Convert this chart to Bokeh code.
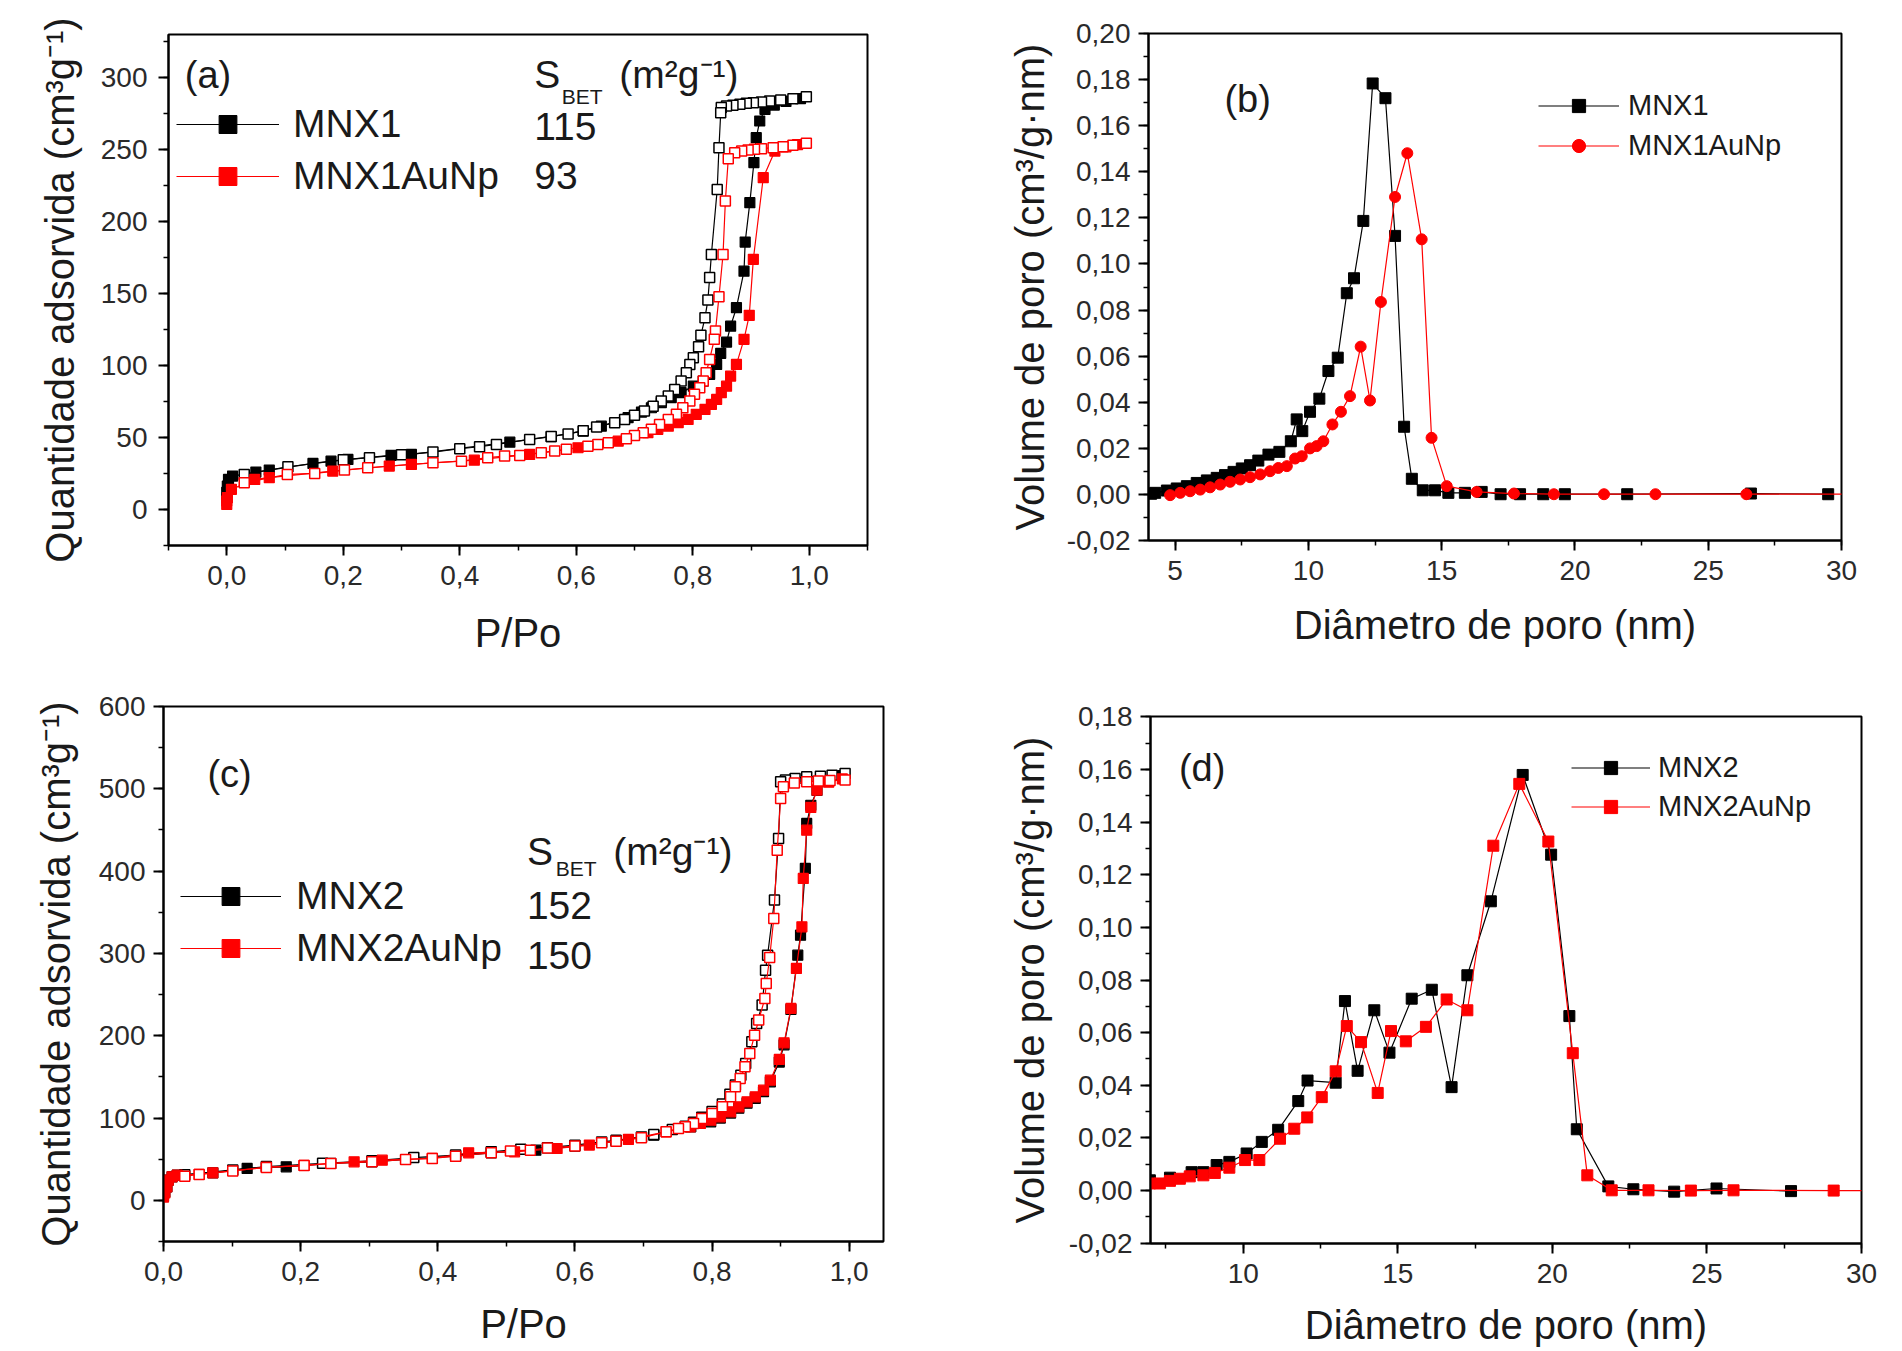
from bokeh.plotting import figure
from bokeh.models import Range1d, SingleIntervalTicker, CustomJSTickFormatter, Legend, LegendItem, Label
from bokeh.layouts import column, row
from bokeh.embed import file_html
from bokeh.resources import INLINE

FONT = "Liberation Sans"
BLACK = "#000000"
RED = "#ff0000"
TXT = "#1a1a1a"

# ---------------- panel (a): MNX1 isotherms ----------------
a_mnx1_ads_x = [0.0, 0.0, 0.001, 0.003, 0.010, 0.050, 0.073, 0.148, 0.179, 0.208, 0.282, 0.317, 0.486, 0.557,
                0.612, 0.643, 0.689, 0.712, 0.729, 0.746, 0.763, 0.780, 0.801, 0.818, 0.829, 0.841, 0.848, 0.858,
                0.865, 0.875, 0.888, 0.890, 0.898, 0.905, 0.909, 0.915, 0.924, 0.940, 0.960, 0.985]
a_mnx1_ads_y = [8, 12, 16.3, 20.9, 23.2, 26, 27.4, 32, 33.6, 34.8, 37.6, 38.3, 46.8, 50.6,
                54.5, 57.9, 63.8, 67.7, 70.7, 74.2, 77.7, 81.2, 85.7, 89.2, 93.9, 100.8, 108.5, 116.3,
                127.4, 140.2, 165.6, 185.8, 213.2, 241, 258.3, 269.9, 278, 281, 283.5, 285.5]
a_mnx1_des_x = [0.995, 0.972, 0.951, 0.932, 0.918, 0.904, 0.892, 0.881, 0.869, 0.858, 0.849, 0.848, 0.845, 0.842,
                0.832, 0.829, 0.826, 0.821, 0.814, 0.810, 0.801, 0.795, 0.789, 0.780, 0.769, 0.758, 0.746, 0.732,
                0.717, 0.700, 0.683, 0.666, 0.635, 0.612, 0.586, 0.557, 0.520, 0.463, 0.434, 0.400, 0.354, 0.300,
                0.245, 0.200, 0.105, 0.030]
a_mnx1_des_y = [286.8, 285.4, 284.5, 283.8, 283.1, 282.6, 282.2, 281.5, 280.8, 280.3, 279.2, 275.7, 251.4, 222.4,
                177.2, 161.1, 145.5, 133.3, 121, 113.1, 105.5, 100.8, 95, 89.2, 83.4, 78.8, 75.3, 71.8,
                68.4, 65.4, 62.6, 60.3, 57.3, 54.8, 52.5, 50.8, 48.7, 45.2, 43.6, 42.2, 39.9, 38,
                36, 34.5, 29.7, 24.4]
a_au_ads_x = [0.0, 0.0, 0.001, 0.008, 0.048, 0.073, 0.182, 0.279, 0.317, 0.425, 0.520, 0.603, 0.672, 0.723,
              0.740, 0.758, 0.775, 0.792, 0.806, 0.821, 0.832, 0.841, 0.849, 0.858, 0.865, 0.875, 0.888, 0.897,
              0.904, 0.921, 0.941, 0.960, 0.980]
a_au_ads_y = [3.5, 6, 8.2, 14, 20.9, 22.1, 26.7, 30.2, 31.3, 34.3, 38.3, 42.9, 47.5, 53.4,
              55.7, 57.9, 60.3, 62.6, 66.1, 69.5, 73, 76.5, 81.2, 85.7, 92.7, 100.8, 118.2, 134.9,
              173.8, 230.5, 249, 252, 253.5]
a_au_des_x = [0.995, 0.972, 0.955, 0.938, 0.918, 0.906, 0.895, 0.884, 0.872, 0.861, 0.856, 0.852, 0.845, 0.839,
              0.837, 0.829, 0.823, 0.818, 0.812, 0.803, 0.795, 0.783, 0.772, 0.758, 0.743, 0.729, 0.715, 0.700,
              0.686, 0.655, 0.637, 0.620, 0.583, 0.563, 0.540, 0.503, 0.477, 0.448, 0.403, 0.354, 0.242, 0.202,
              0.151, 0.104, 0.030]
a_au_des_y = [254.4, 253, 252.1, 251.4, 250.7, 250.2, 249.7, 249, 247.9, 243.7, 214.3, 177.2, 147.8, 124,
              118.2, 104.3, 95, 89.2, 84.6, 80, 75.3, 70.7, 66.1, 62.6, 59.1, 55.7, 53.4, 51.5,
              49.2, 46.4, 45.2, 44, 41.8, 40.6, 39.5, 37.6, 37.1, 36, 33.6, 32.5, 29, 27.4,
              25.1, 24.4, 18.6]

# ---------------- panel (b): MNX1 pore size distribution ----------------
b_mnx1_x = [4.1, 4.25, 4.69, 5.06, 5.44, 5.81, 6.19, 6.56, 6.87, 7.19, 7.5, 7.81, 8.12, 8.5, 8.91, 9.34, 9.56,
            9.77, 10.06, 10.41, 10.75, 11.10, 11.44, 11.71, 12.06, 12.41, 12.89, 13.25, 13.59, 13.88, 14.29,
            14.75, 15.25, 15.87, 16.5, 17.21, 17.94, 18.81, 19.62, 21.96, 26.6, 29.5]
b_mnx1_y = [0.0002, 0.0006, 0.0016, 0.0025, 0.0035, 0.0049, 0.0060, 0.0071, 0.0083, 0.0097, 0.0112, 0.0126,
            0.0146, 0.0172, 0.0184, 0.0230, 0.0325, 0.0274, 0.0358, 0.0415, 0.0535, 0.0593, 0.0873, 0.0938,
            0.1187, 0.1784, 0.1720, 0.1122, 0.0293, 0.0067, 0.0017, 0.0017, 0.0006, 0.0006, 0.0010, 0.0,
            0.0, 0.0, 0.0, 0.0, 0.0003, 0.0]
b_au_x = [4.81, 5.19, 5.56, 5.94, 6.31, 6.69, 7.06, 7.44, 7.81, 8.19, 8.56, 8.87, 9.19, 9.5, 9.75, 10.06,
          10.31, 10.56, 10.90, 11.22, 11.56, 11.96, 12.31, 12.72, 13.25, 13.71, 14.25, 14.62, 15.19, 16.31,
          17.71, 19.21, 21.09, 23.02, 26.43, 30.5]
b_au_y = [-0.0004, 0.0006, 0.0013, 0.0020, 0.0030, 0.0042, 0.0054, 0.0064, 0.0074, 0.0086, 0.0100, 0.0114,
          0.0122, 0.0155, 0.0165, 0.0199, 0.0209, 0.0230, 0.0303, 0.0358, 0.0426, 0.0641, 0.0407, 0.0835,
          0.1291, 0.1481, 0.1107, 0.0245, 0.0035, 0.0010, 0.0003, 0.0, 0.0, 0.0, 0.0, 0.0]

# ---------------- panel (c): MNX2 isotherms ----------------
c_mnx2_ads_x = [0.0, 0.002, 0.005, 0.007, 0.0125, 0.020, 0.072, 0.122, 0.179, 0.244, 0.304, 0.353, 0.426, 0.478,
                0.543, 0.600, 0.660, 0.715, 0.769, 0.798, 0.812, 0.827, 0.839, 0.851, 0.863, 0.875, 0.885, 0.898,
                0.905, 0.915, 0.925, 0.929, 0.936, 0.938, 0.944, 0.953, 0.970, 0.990]
c_mnx2_ads_y = [5, 10, 16.4, 24.5, 28.6, 30.6, 33.4, 38.8, 40.7, 44.8, 46.8, 49.6, 53.7, 57.7,
                61, 65.9, 71.9, 79.2, 89.3, 95.4, 100, 106, 112, 118, 124, 132, 144, 168,
                189, 232, 297.9, 322.2, 403.3, 458, 480, 498, 510, 516]
c_mnx2_des_x = [0.994, 0.975, 0.958, 0.938, 0.921, 0.907, 0.900, 0.897, 0.891, 0.881, 0.878, 0.873, 0.865, 0.858,
                0.849, 0.842, 0.834, 0.826, 0.815, 0.800, 0.785, 0.773, 0.761, 0.742, 0.715, 0.697, 0.660, 0.639,
                0.600, 0.560, 0.521, 0.478, 0.426, 0.365, 0.304, 0.232, 0.150, 0.101, 0.031]
c_mnx2_des_y = [518.7, 516.6, 515.4, 514.6, 512.6, 510.6, 508.5, 439.7, 364.8, 297.9, 279.7, 237.2, 214.9, 192.6,
                166.3, 152, 140, 129, 117, 108, 101, 95, 90, 86, 80, 77, 73, 71,
                67, 64, 62, 59, 55, 52, 48, 45, 41, 37, 31]
c_au_ads_x = [0.0, 0.002, 0.005, 0.007, 0.0125, 0.020, 0.052, 0.072, 0.150, 0.205, 0.278, 0.319, 0.392, 0.445,
              0.512, 0.574, 0.621, 0.678, 0.733, 0.768, 0.783, 0.798, 0.812, 0.827, 0.839, 0.851, 0.863, 0.875,
              0.885, 0.898, 0.905, 0.915, 0.923, 0.931, 0.933, 0.938, 0.944, 0.953, 0.970, 0.990]
c_au_ads_y = [4, 9, 16.4, 24.5, 28.6, 30.6, 31.5, 33.4, 40, 42.4, 46.8, 48.8, 50.9, 57.7,
              58.9, 63, 67.1, 74, 83.2, 89.3, 93.4, 97.4, 101.5, 107.5, 113.6, 119.7, 125.8, 133.9,
              146, 171.2, 191.4, 233.2, 281.8, 332.3, 391.1, 449.8, 477.4, 498.4, 508, 512]
c_au_des_x = [0.994, 0.972, 0.955, 0.938, 0.920, 0.904, 0.900, 0.895, 0.890, 0.884, 0.879, 0.877, 0.868, 0.862,
              0.855, 0.848, 0.841, 0.834, 0.827, 0.815, 0.800, 0.785, 0.773, 0.761, 0.751, 0.733, 0.697, 0.660,
              0.639, 0.600, 0.560, 0.535, 0.506, 0.478, 0.426, 0.392, 0.353, 0.304, 0.244, 0.205, 0.150, 0.101,
              0.052, 0.031]
c_au_des_y = [510.6, 510, 509.5, 508.5, 507, 502.4, 488.3, 425.5, 342.5, 295, 263.5, 245.3, 219, 200.7,
              178.5, 162.2, 148.1, 137.9, 125.8, 113.6, 105.6, 99.5, 93.4, 89.3, 87.4, 83.2, 75.9, 71.9,
              69.9, 65.9, 63.5, 61, 60, 57.7, 53.7, 50.9, 49.6, 46.8, 44.8, 42.4, 40, 35.8,
              31.5, 29.4]

# ---------------- panel (d): MNX2 pore size distribution ----------------
d_mnx2_x = [6.98, 7.63, 8.33, 8.71, 9.14, 9.55, 10.11, 10.60, 11.13, 11.78, 12.08, 12.99, 13.29, 13.70, 14.24,
            14.73, 15.45, 16.10, 16.74, 17.25, 18.01, 19.04, 19.96, 20.55, 20.79, 21.81, 22.62, 23.94, 25.31, 27.72]
d_mnx2_y = [0.0039, 0.0049, 0.0070, 0.0070, 0.0097, 0.0109, 0.0141, 0.0185, 0.0231, 0.0340, 0.0418, 0.0410,
            0.0720, 0.0455, 0.0685, 0.0524, 0.0729, 0.0763, 0.0393, 0.0818, 0.1099, 0.1579, 0.1276, 0.0663,
            0.0233, 0.0016, 0.0005, -0.0004, 0.0008, -0.0002]
d_au_x = [6.98, 7.30, 7.63, 7.95, 8.27, 8.71, 9.08, 9.55, 10.06, 10.52, 11.19, 11.65, 12.07, 12.54, 12.99,
          13.35, 13.81, 14.35, 14.78, 15.26, 15.91, 16.58, 17.25, 18.09, 18.93, 19.87, 20.66, 21.13, 21.92,
          23.11, 24.48, 25.86, 29.1, 30.5]
d_au_y = [0.0027, 0.0027, 0.0037, 0.0045, 0.0054, 0.0058, 0.0067, 0.0087, 0.0116, 0.0116, 0.0197, 0.0235,
          0.0278, 0.0355, 0.0453, 0.0625, 0.0564, 0.0371, 0.0606, 0.0567, 0.0622, 0.0726, 0.0685, 0.1310,
          0.1545, 0.1326, 0.0522, 0.0058, 0.0001, 0.0001, 0.0, 0.0001, 0.0, 0.0]

# texts
names_1 = ["MNX1", "MNX1AuNp"]
names_2 = ["MNX2", "MNX2AuNp"]
sbet_1 = ["115", "93"]
sbet_2 = ["152", "150"]
ylab_iso = "Quantidade adsorvida (cm³g⁻¹)"
ylab_psd = "Volume de poro (cm³/g·nm)"
xlab_iso = "P/Po"
xlab_psd = "Diâmetro de poro (nm)"


def fmt(dec):
    return CustomJSTickFormatter(
        code=f"var v = Math.abs(tick) < 1e-9 ? 0 : tick; return v.toFixed({dec}).replace('.', ',');")


def make_fig(xr, yr, w, h, bl, br, bt, bb, xint, yint, xdec, ydec, xlabel, ylabel, xstand, ystand, ytick_stand):
    p = figure(width=w, height=h, x_range=Range1d(*xr), y_range=Range1d(*yr),
               min_border_left=bl, min_border_right=br, min_border_top=bt, min_border_bottom=bb,
               output_backend="svg", toolbar_location=None, tools="", title_location=None)
    p.frame_align = False
    p.xgrid.visible = False
    p.ygrid.visible = False
    p.outline_line_color = "black"
    p.outline_line_width = 2
    p.background_fill_color = "white"
    p.border_fill_color = "white"
    for ax, interval, dec, label, stand in ((p.xaxis[0], xint, xdec, xlabel, xstand),
                                            (p.yaxis[0], yint, ydec, ylabel, ystand)):
        ax.ticker = SingleIntervalTicker(interval=interval, num_minor_ticks=2)
        ax.formatter = fmt(dec)
        ax.axis_label = label
        ax.axis_label_text_font = FONT
        ax.axis_label_text_font_size = "40px"
        ax.axis_label_text_font_style = "normal"
        ax.axis_label_text_color = TXT
        ax.axis_label_standoff = stand
        ax.major_label_text_font = FONT
        ax.major_label_text_font_size = "28px"
        ax.major_label_text_color = "#2a2a2a"
        ax.axis_line_width = 2
        ax.axis_line_color = "black"
        ax.major_tick_line_width = 2
        ax.minor_tick_line_width = 1.5
        ax.major_tick_out = 10
        ax.major_tick_in = 0
        ax.minor_tick_out = 5
        ax.minor_tick_in = 0
    p.xaxis[0].major_label_standoff = 10
    p.yaxis[0].major_label_standoff = ytick_stand
    return p


def label(p, x, y, text, size):
    p.add_layout(Label(x=x, y=y, text=text, text_font=FONT, text_font_size=size, text_color=TXT,
                       text_baseline="middle", text_align="left"))


def legend(p, items, loc, gw, gh, spacing, standoff, size):
    lg = Legend(items=items, location=loc, glyph_width=gw, glyph_height=gh, label_height=gh,
                spacing=spacing, padding=0, margin=0, label_standoff=standoff,
                border_line_alpha=0, background_fill_alpha=0,
                label_text_font=FONT, label_text_font_size=size, label_text_color=TXT)
    p.add_layout(lg)


def iso_series(p, ax, ay, dx, dy, color):
    la = p.line(ax, ay, line_color=color, line_width=1.2)
    sa = p.scatter(ax, ay, marker="square", size=10, fill_color=color, line_color=color, line_width=1.2)
    p.line(dx, dy, line_color=color, line_width=1.2)
    p.scatter(dx, dy, marker="square", size=10, fill_color="white", line_color=color, line_width=1.5)
    return la, sa


# ---- (a)
pa = make_fig((-0.1, 1.1), (-25, 330), 951, 675, 168, 84, 34, 130, 0.2, 50, 1, 0,
              xlab_iso, ylab_iso, 23, 16, 11)
r1 = iso_series(pa, a_mnx1_ads_x, a_mnx1_ads_y, a_mnx1_des_x, a_mnx1_des_y, BLACK)
r2 = iso_series(pa, a_au_ads_x, a_au_ads_y, a_au_des_x, a_au_des_y, RED)
legend(pa, [LegendItem(label=names_1[0], renderers=list(r1)), LegendItem(label=names_1[1], renderers=list(r2))],
       (8, 347), 103, 44, 8, 14, "39px")
label(pa, -0.072, 302, "(a)", "38px")
label(pa, 0.528, 302, "S", "39px")
label(pa, 0.575, 287, "BET", "21px")
label(pa, 0.674, 302, "(m²g⁻¹)", "39px")
label(pa, 0.528, 266, sbet_1[0], "39px")
label(pa, 0.528, 232, sbet_1[1], "39px")

# ---- (b)
pb = make_fig((4, 30), (-0.0201, 0.2001), 943, 675, 197, 53, 33, 135, 5, 0.02, 0, 2,
              xlab_psd, ylab_psd, 20, 12, 8)
lb1 = pb.line(b_mnx1_x, b_mnx1_y, line_color=BLACK, line_width=1.2)
sb1 = pb.scatter(b_mnx1_x, b_mnx1_y, marker="square", size=11, fill_color=BLACK, line_color=BLACK)
lb2 = pb.line(b_au_x, b_au_y, line_color=RED, line_width=1.2)
sb2 = pb.scatter(b_au_x, b_au_y, marker="circle", size=11, fill_color=RED, line_color=RED)
legend(pb, [LegendItem(label=names_1[0], renderers=[lb1, sb1]), LegendItem(label=names_1[1], renderers=[lb2, sb2])],
       (390, 378), 81, 33, 7, 9, "29px")
label(pb, 6.85, 0.1715, "(b)", "38px")

# ---- (c)
pc = make_fig((0, 1.05), (-50, 600), 951, 676, 163, 68, 31, 110, 0.2, 100, 1, 0,
              xlab_iso, ylab_iso, 18, 18, 8)
r3 = iso_series(pc, c_mnx2_ads_x, c_mnx2_ads_y, c_mnx2_des_x, c_mnx2_des_y, BLACK)
r4 = iso_series(pc, c_au_ads_x, c_au_ads_y, c_au_des_x, c_au_des_y, RED)
legend(pc, [LegendItem(label=names_2[0], renderers=list(r3)), LegendItem(label=names_2[1], renderers=list(r4))],
       (17, 271), 101, 44, 8, 15, "39px")
label(pc, 0.064, 518, "(c)", "38px")
label(pc, 0.530, 424, "S", "39px")
label(pc, 0.572, 403, "BET", "21px")
label(pc, 0.656, 424, "(m²g⁻¹)", "39px")
label(pc, 0.530, 358, sbet_2[0], "39px")
label(pc, 0.530, 298, sbet_2[1], "39px")

# ---- (d)
pd = make_fig((7, 30), (-0.0201, 0.1801), 943, 676, 199, 33, 41, 108, 5, 0.02, 0, 2,
              xlab_psd, ylab_psd, 17, 14, 8)
ld1 = pd.line(d_mnx2_x, d_mnx2_y, line_color=BLACK, line_width=1.2)
sd1 = pd.scatter(d_mnx2_x, d_mnx2_y, marker="square", size=11, fill_color=BLACK, line_color=BLACK)
ld2 = pd.line(d_au_x, d_au_y, line_color=RED, line_width=1.2)
sd2 = pd.scatter(d_au_x, d_au_y, marker="square", size=11, fill_color=RED, line_color=RED)
legend(pd, [LegendItem(label=names_2[0], renderers=[ld1, sd1]), LegendItem(label=names_2[1], renderers=[ld2, sd2])],
       (421, 420), 79, 33, 6, 8, "29px")
label(pd, 7.92, 0.1604, "(d)", "38px")

layout = column(row(pa, pb, spacing=0), row(pc, pd, spacing=0), spacing=0)
open("out.html", "w").write(file_html(layout, INLINE))
